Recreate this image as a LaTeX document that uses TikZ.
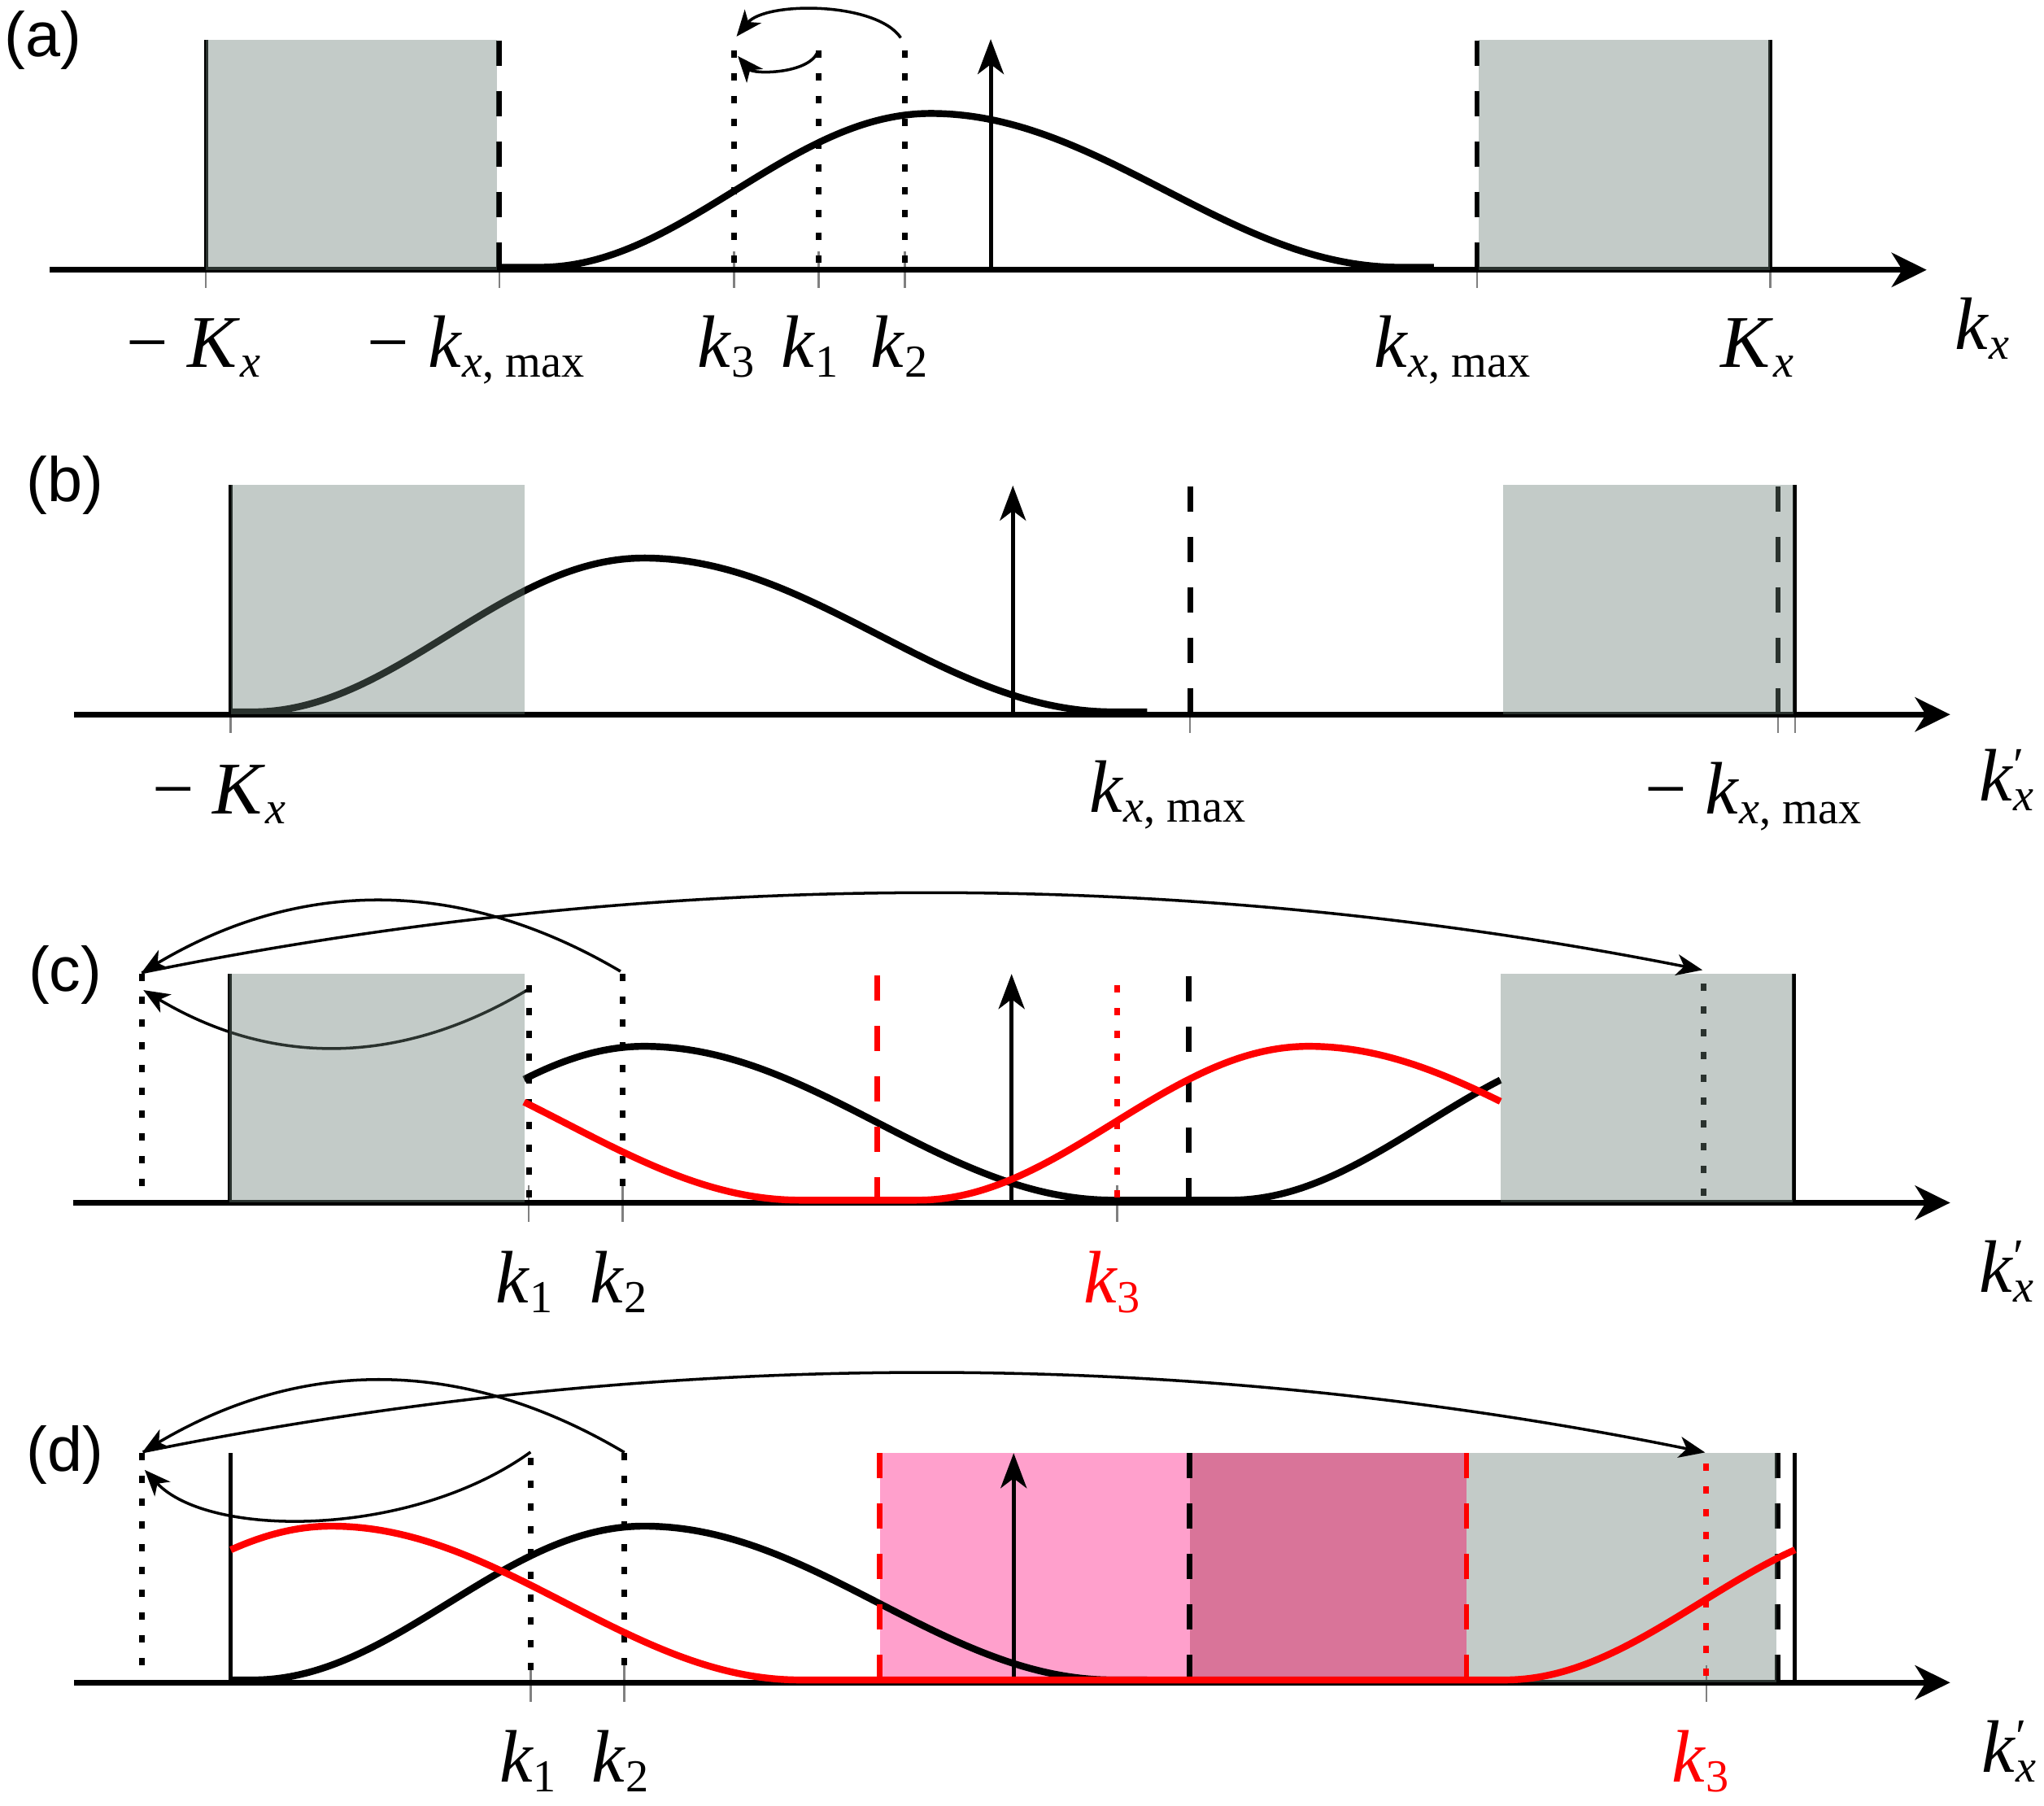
\documentclass[tikz,border=0pt]{standalone}
\usepackage{fontspec}
\setmainfont{Liberation Serif}
\newfontfamily\panelfont{Liberation Sans}
\usetikzlibrary{arrows.meta}
\definecolor{boxgray}{rgb}{0.41,0.49,0.46}
\definecolor{pinkm}{rgb}{1,0.627,0.8}
\definecolor{mauvem}{rgb}{0.851,0.455,0.6}
\definecolor{tickgray}{rgb}{0.5,0.5,0.5}
\definecolor{kred}{rgb}{1,0,0}
\newcommand{\sbx}[1]{\raisebox{-0.12cm}{\fontsize{16}{16}\selectfont #1}}
\newcommand{\mn}{\char"2212\ }
\newcommand{\prm}{\rlap{\raisebox{0.24cm}{\fontsize{17}{17}\selectfont\char"2032}}}
\begin{document}
\begin{tikzpicture}[x=0.016027cm, y=-0.016027cm,
  declare function={bump(\u)=(\u<0)*(\u>-300)*118*(cos(0.3*\u))^2+(1-(\u<0))*(\u<360)*118*(cos(0.25*\u))^2;},
  axisl/.style={line width=2pt, -{Stealth[length=0.43cm,width=0.42cm,inset=0.13cm]}},
  curvel/.style={line width=2.4pt, line join=round},
  varrow/.style={line width=1.4pt, -{Stealth[length=0.43cm,width=0.32cm,inset=0.12cm]}},
  arcl/.style={line width=1pt, -{Stealth[length=0.32cm,width=0.26cm,inset=0.09cm]}},
  dotl/.style={line width=2pt, dash pattern=on 0.09cm off 0.19cm},
  dashl/.style={line width=1.9pt, dash pattern=on 0.31cm off 0.31cm},
  edgel/.style={line width=1.4pt},
  tickl/.style={tickgray, line width=0.7pt},
  gbox/.style={fill=boxgray, fill opacity=0.4},
  lab/.style={anchor=base, inner sep=0pt, font=\fontsize{26}{30}\selectfont},
  axlab/.style={anchor=base west, inner sep=0pt, font=\fontsize{26}{30}\selectfont},
  plab/.style={inner sep=0pt, font=\panelfont\fontsize{22}{26}\selectfont},
]
\useasboundingbox (0,0) rectangle (1568,1385);

% ================= (a) =================
\foreach \t in {158,383,1133,1358} \draw[tickl] (\t,207) -- (\t,221);
\foreach \t in {563,628,694} \draw[tickl] (\t,193) -- (\t,221);
\draw[axisl] (38,207) -- (1478,207);
\draw[curvel] plot[domain=383:1100, samples=220] (\x, {205-bump(\x-714)});
\draw[edgel] (158,30.5) -- (158,207);
\draw[edgel] (1358,30.5) -- (1358,207);
\draw[dashl] (383,31) -- (383,207);
\draw[dashl] (1133,31) -- (1133,207);
\foreach \t in {563,628,694} \draw[dotl] (\t,38.5) -- (\t,207);
\draw[varrow] (760,207) -- (760,30);
\fill[gbox] (158,30.5) rectangle (381.5,207);
\fill[gbox] (1134.5,30.5) rectangle (1358,207);
\coordinate (a2) at (691,29);
\coordinate (a3) at (565,28);
\coordinate (a1) at (627,40.5);
\coordinate (a3b) at (566,43);
\draw[arcl] (a2) .. controls (672,1) and (587,1) .. (a3);
\draw[arcl] (a1) .. controls (619,57) and (578,57) .. (a3b);
\node[plab] (pa) at (33,31) {(a)};
\node[lab] (la1) at (148.5,282) {\mn\textit{K}\sbx{\textit{x}}};
\node[lab] (la2) at (365,282) {\mn\textit{k}\sbx{\textit{x}, max}};
\node[lab] (la3) at (557,282) {\textit{k}\sbx{3}};
\node[lab] (la4) at (621,282) {\textit{k}\sbx{1}};
\node[lab] (la5) at (690,282) {\textit{k}\sbx{2}};
\node[lab] (la6) at (1114,282) {\textit{k}\sbx{\textit{x}, max}};
\node[lab] (la7) at (1348,282) {\textit{K}\sbx{\textit{x}}};
\node[axlab] (la8) at (1499,268) {\textit{k}\sbx{\textit{x}}};

% ================= (b) =================
\foreach \t in {177,913,1364,1377} \draw[tickl] (\t,548) -- (\t,562);
\draw[axisl] (57,548) -- (1496,548);
\draw[curvel] plot[domain=177:880, samples=220] (\x, {546-bump(\x-494)});
\draw[edgel] (177,372) -- (177,548);
\draw[edgel] (1377,372) -- (1377,548);
\draw[dashl] (913,373) -- (913,548);
\draw[dashl] (1364,373) -- (1364,548);
\draw[varrow] (777,548) -- (777,372.4);
\fill[gbox] (177,372) rectangle (402.5,548);
\fill[gbox] (1153,372) rectangle (1376,548);
\node[plab] (pb) at (50,372) {(b)};
\node[lab] (lb1) at (168,624) {\mn\textit{K}\sbx{\textit{x}}};
\node[lab] (lb2) at (895.5,623) {\textit{k}\sbx{\textit{x}, max}};
\node[lab] (lb3) at (1345,624) {\mn\textit{k}\sbx{\textit{x}, max}};
\node[axlab] (lb4) at (1518,614) {\textit{k}\prm\sbx{\textit{x}}};

% ================= (c) =================
\foreach \t in {405.6,477.5,857} \draw[tickl] (\t,909) -- (\t,937);
\draw[axisl] (56,922.5) -- (1496,922.5);
\draw[curvel] plot[domain=402:1151, samples=260] (\x, {920.5-bump(\x-494)-bump(\x-1244)});
\draw[dotl] (108.6,747) -- (108.6,922.5);
\draw[dotl] (405.6,755.6) -- (405.6,922.5);
\draw[dotl] (477.5,747) -- (477.5,922.5);
\draw[dotl] (1307,754.5) -- (1307,922.5);
\draw[edgel] (176,747) -- (176,922.5);
\draw[edgel] (1376,747) -- (1376,922.5);
\draw[dashl] (912,748.6) -- (912,922.5);
\draw[varrow] (776,922.5) -- (776,747);
\coordinate (c1s) at (405,759);
\coordinate (c1e) at (110,759.4);
\draw[arcl] (c1s) .. controls (307,818) and (208,818) .. (c1e);
\fill[gbox] (176,747) rectangle (402.5,922.5);
\fill[gbox] (1151,747) rectangle (1375,922.5);
\draw[dashl, kred] (673,748) -- (673,922.5);
\draw[dotl, kred] (857,755.6) -- (857,922.5);
\draw[curvel, kred] plot[domain=402:1151, samples=260] (\x, {920.5-bump(\x-254)-bump(\x-1004)});
\coordinate (c2s) at (476,745);
\coordinate (ctip) at (108.6,746);
\coordinate (c3e) at (1306,744);
\draw[arcl] (c2s) .. controls (354,673) and (231,673) .. (ctip);
\draw[arcl] (ctip) .. controls (507,665) and (907,665) .. (c3e);
\node[plab] (pc) at (50,748) {(c)};
\node[lab] (lc1) at (402,999) {\textit{k}\sbx{1}};
\node[lab] (lc2) at (474.5,999) {\textit{k}\sbx{2}};
\node[lab, text=kred] (lc3) at (853,999) {\textit{k}\sbx{3}};
\node[axlab] (lc4) at (1518,991) {\textit{k}\prm\sbx{\textit{x}}};

% ================= (d) =================
\foreach \t in {407,479,1309} \draw[tickl] (\t,1277) -- (\t,1305);
\draw[axisl] (57,1290.5) -- (1496,1290.5);
\draw[curvel] plot[domain=177:880, samples=220] (\x, {1288.5-bump(\x-494)});
\draw[dotl] (108.6,1114.5) -- (108.6,1290.5);
\draw[dotl] (407,1118) -- (407,1290.5);
\draw[dotl] (479,1114.5) -- (479,1290.5);
\draw[edgel] (177,1114.5) -- (177,1290.5);
\draw[edgel] (1377,1114.5) -- (1377,1290.5);
\draw[dashl] (912.5,1114.5) -- (912.5,1290.5);
\draw[dashl] (1363.6,1114.5) -- (1363.6,1290.5);
\draw[varrow] (777.6,1290.5) -- (777.6,1114.5);
\coordinate (d1s) at (407,1113.7);
\coordinate (d1e) at (111,1127.4);
\draw[arcl] (d1s) .. controls (315,1180) and (160,1180) .. (d1e);
\fill[gbox] (1125,1114.5) rectangle (1363,1290.5);
\begin{scope}[blend mode=multiply]
\fill[pinkm] (675,1114.5) rectangle (913,1290.5);
\fill[mauvem] (913,1114.5) rectangle (1125,1290.5);
\end{scope}
\draw[dashl, kred] (675,1114.5) -- (675,1290.5);
\draw[dashl, kred] (1125,1114.5) -- (1125,1290.5);
\draw[dotl, kred] (1309,1122.7) -- (1309,1290.5);
\draw[curvel, kred] plot[domain=177:1377, samples=320] (\x, {1288.5-bump(\x-254)-bump(\x-1454)});
\coordinate (d2s) at (479,1114);
\coordinate (dtip) at (109.5,1113.5);
\coordinate (d3e) at (1308,1114);
\draw[arcl] (d2s) .. controls (355.7,1040.7) and (232.3,1040.7) .. (dtip);
\draw[arcl] (dtip) .. controls (508.4,1032.7) and (908.2,1032.7) .. (d3e);
\node[plab] (pd) at (50,1116) {(d)};
\node[lab] (ld1) at (405,1367) {\textit{k}\sbx{1}};
\node[lab] (ld2) at (476,1367) {\textit{k}\sbx{2}};
\node[lab, text=kred] (ld3) at (1304.5,1367) {\textit{k}\sbx{3}};
\node[axlab] (ld4) at (1520,1359) {\textit{k}\prm\sbx{\textit{x}}};
\end{tikzpicture}
\end{document}
